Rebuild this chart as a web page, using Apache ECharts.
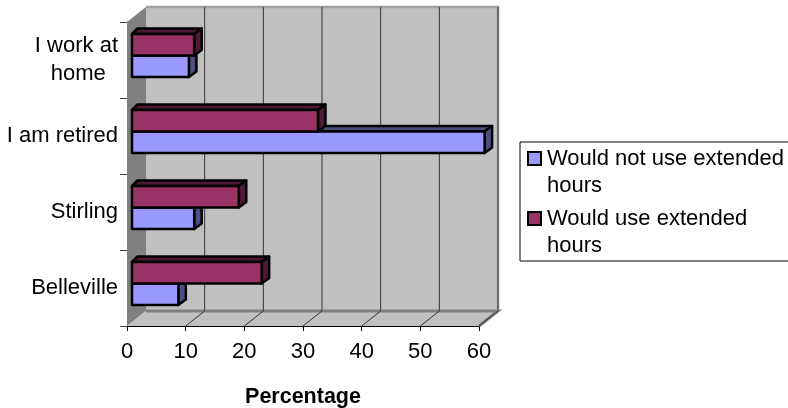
<!DOCTYPE html>
<html>
<head>
<meta charset="utf-8">
<style>html,body{margin:0;padding:0;background:#fff}#chart{width:788px;height:408px}</style>
<script src="https://cdn.jsdelivr.net/npm/echarts@6/dist/echarts.min.js"></script>
</head>
<body>
<div id="chart"></div>
<script>
var categories = ['Belleville', 'Stirling', 'I am retired', 'I work at\nhome  '];
var wouldNotUse = [7.9, 10.6, 60.1, 9.7];
var wouldUse = [22.1, 18.2, 31.7, 10.6];
var ticks = [0, 10, 20, 30, 40, 50, 60];
var seriesNames = ['Would not use extended hours', 'Would use extended hours'];
var legendLines = [['Would not use extended', 'hours'], ['Would use extended', 'hours']];

var FONT = '"Liberation Sans", Arial, sans-serif';
var FONT_SIZE = 22;
// wall depth in px
var DX = 19, DY = -15;

function pts(list) { return { points: list }; }

function renderWalls(params, api) {
    var c = params.coordSys;
    var l = c.x, r = c.x + c.width, t = c.y, b = c.y + c.height;
    return {
        type: 'group',
        silent: true,
        children: [
            { type: 'polygon', shape: pts([[l + DX, t + DY], [r + DX, t + DY], [r + DX, b + DY], [l + DX, b + DY]]), style: { fill: '#c0c0c0' } },
            { type: 'polygon', shape: pts([[l, b], [l + DX, b + DY], [l + DX, t + DY], [l, t]]), style: { fill: '#808080' } },
            { type: 'polygon', shape: pts([[l, b], [r, b], [r + DX, b + DY], [l + DX, b + DY]]), style: { fill: '#c0c0c0' } },
            { type: 'polyline', shape: pts([[l + DX, b + DY], [r + DX, b + DY], [r, b]]), style: { fill: 'none', stroke: '#808080', lineWidth: 3 } },
            { type: 'polyline', shape: pts([[l + DX, t + DY], [r + DX, t + DY], [r + DX, b + DY]]), style: { fill: 'none', stroke: '#a0a0a0', lineWidth: 2.5 } }
        ]
    };
}

function renderGrid(params, api) {
    var c = params.coordSys;
    var x = api.coord([api.value(0), 0])[0];
    var b = c.y + c.height;
    return {
        type: 'polyline',
        silent: true,
        shape: pts([[x, b], [x + DX, b + DY], [x + DX, c.y + DY]]),
        style: { fill: 'none', stroke: '#333', lineWidth: 1 }
    };
}

function barRenderer(colors, upper) {
    return function (params, api) {
        var off = 5, h = 21.5, dx = 7.5, dy = -5.5;
        var x0 = api.coord([0, api.value(1)])[0] + off;
        var p = api.coord([api.value(0), api.value(1)]);
        var x1 = p[0] + off;
        var y0 = p[1] - 4.5 + (upper ? -h : 0);
        var y1 = y0 + h;
        var line = { stroke: '#000', lineWidth: 2.5, lineJoin: 'round' };
        return {
            type: 'group',
            children: [
                { type: 'polygon', shape: pts([[x0, y0], [x0 - dy, y0 + dy], [x1 + dx, y0 + dy], [x1, y0]]), style: Object.assign({ fill: colors.top }, line) },
                { type: 'polygon', shape: pts([[x1, y0], [x1 + dx, y0 + dy], [x1 + dx, y1 + dy], [x1, y1]]), style: Object.assign({ fill: colors.side }, line) },
                { type: 'rect', shape: { x: x0, y: y0, width: x1 - x0, height: h }, style: Object.assign({ fill: colors.front }, line) }
            ]
        };
    };
}

function pairs(values) {
    return values.map(function (v, i) { return [v, i]; });
}

function legendItem(y, color, lines) {
    return [
        { type: 'rect', left: 527, top: y + 6, shape: { width: 13, height: 13 }, style: { fill: color, stroke: '#000', lineWidth: 2 } },
        { type: 'text', left: 547, top: y, style: { text: lines.join('\n'), font: FONT_SIZE + 'px ' + FONT, lineHeight: 27, fill: '#000' } }
    ];
}

var myChart = echarts.init(document.getElementById('chart'));
myChart.setOption({
    animation: false,
    backgroundColor: '#fff',
    grid: { left: 127, right: 309, top: 22, bottom: 82, outerBoundsMode: 'none' },
    xAxis: {
        type: 'value', min: 0, max: 60, interval: 10,
        name: 'Percentage', nameLocation: 'middle', nameGap: 60,
        nameTextStyle: { fontFamily: FONT, fontSize: 21.5, fontWeight: 'bold', color: '#000' },
        axisLine: { show: true, onZero: false, lineStyle: { color: '#000', width: 1 } },
        axisTick: { show: true, length: 5, inside: false, lineStyle: { color: '#000' } },
        axisLabel: { fontFamily: FONT, fontSize: FONT_SIZE, color: '#000', margin: 15 },
        splitLine: { show: false }
    },
    yAxis: {
        type: 'category', data: categories,
        axisLine: { show: true, lineStyle: { color: '#444', width: 1 } },
        axisTick: { show: true, length: 7, lineStyle: { color: '#444' } },
        axisLabel: { fontFamily: FONT, fontSize: FONT_SIZE, color: '#000', margin: 9, lineHeight: 28 },
        splitLine: { show: false }
    },
    series: [
        { type: 'custom', silent: true, z: 1, data: [[0]], encode: { x: 0 }, renderItem: renderWalls, clip: false },
        { type: 'custom', silent: true, z: 2, data: ticks.slice(1).map(function (t) { return [t]; }), encode: { x: 0 }, renderItem: renderGrid, clip: false },
        { type: 'custom', name: seriesNames[0], z: 3, data: pairs(wouldNotUse), encode: { x: 0, y: 1 }, clip: false,
            renderItem: barRenderer({ front: '#9999ff', side: '#4d4d80', top: '#4d4d80' }, false) },
        { type: 'custom', name: seriesNames[1], z: 4, data: pairs(wouldUse), encode: { x: 0, y: 1 }, clip: false,
            renderItem: barRenderer({ front: '#993366', side: '#4d1a33', top: '#4d1a33' }, true) }
    ],
    graphic: [
        { type: 'rect', left: 519.5, top: 141.5, shape: { width: 300, height: 119 }, style: { fill: '#fff', stroke: '#000', lineWidth: 1 } }
    ].concat(legendItem(145, '#9999ff', legendLines[0]), legendItem(205, '#993366', legendLines[1]))
});
</script>
</body>
</html>
